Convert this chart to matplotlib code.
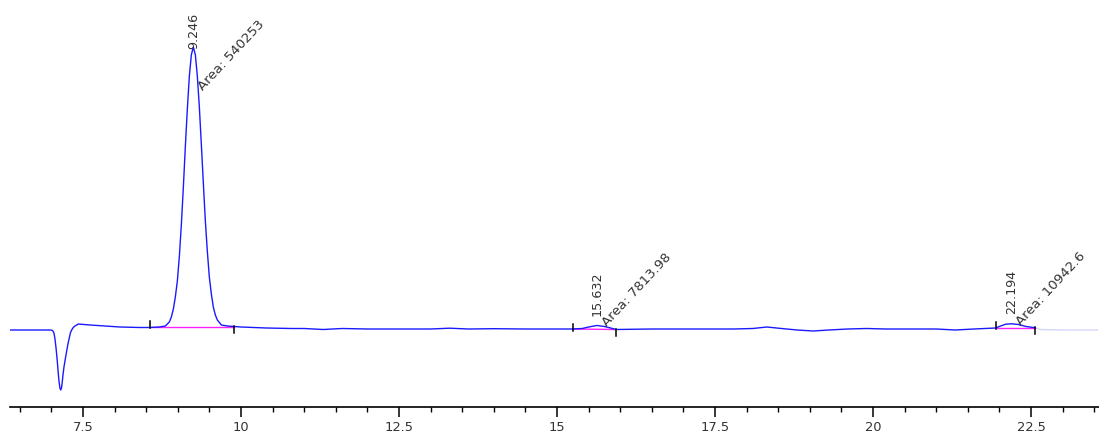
import matplotlib
matplotlib.use('Agg')
import matplotlib.pyplot as plt
from matplotlib.ticker import MultipleLocator, FormatStrFormatter

# Detector trace (min, signal)
trace_time = [6.345, 6.820, 6.978, 7.010, 7.025, 7.040, 7.057, 7.075, 7.093, 7.107,
              7.120, 7.135, 7.147, 7.160, 7.172, 7.185, 7.199, 7.220, 7.242, 7.262,
              7.283, 7.300, 7.321, 7.345, 7.373, 7.426, 7.516, 7.611, 7.848, 8.085,
              8.402, 8.560, 8.708, 8.803, 8.866, 8.898, 8.930, 8.961, 8.993, 9.025,
              9.056, 9.088, 9.119, 9.151, 9.183, 9.214, 9.246, 9.278, 9.309, 9.341,
              9.373, 9.404, 9.436, 9.467, 9.499, 9.531, 9.562, 9.594, 9.626, 9.689,
              9.784, 9.890, 10.0, 10.4, 10.8, 11.0, 11.3, 11.6, 12.0, 13.0,
              13.3, 13.6, 14.0, 14.5, 15.0, 15.25, 15.40, 15.50, 15.632, 15.75,
              15.85, 15.93, 16.5, 17.0, 17.8, 18.1, 18.32, 18.55, 18.8, 19.05,
              19.3, 19.6, 19.9, 20.2, 21.0, 21.3, 21.6, 21.94, 22.02, 22.10,
              22.194, 22.30, 22.42, 22.56]
trace_signal = [-1, -1, -1, -1.3, -2, -4, -10, -20, -32, -43,
                -52, -59, -61, -59, -53, -45, -38, -30, -22, -15,
                -9, -4, -1, 1.5, 3, 5, 4.5, 4, 3, 2,
                1.5, 1.5, 2, 3, 7, 12, 20, 32, 48, 73,
                104, 142, 182, 220, 253, 274, 282, 274, 253, 222,
                184, 146, 108, 78, 52, 35, 22, 14, 9, 4,
                3, 2.5, 2, 1, 0.5, 0.5, -0.5, 0.5, 0, 0,
                0.8, 0, 0.3, 0, 0, 0, 0.5, 2, 3.5, 2.5,
                1, -0.5, 0, 0, 0, 0.5, 2, 0.5, -1, -2,
                -1, 0, 0.5, 0, 0, -1, 0, 1, 3, 4.8,
                5.2, 4.5, 2.5, 1.3]

# Trace after the last integrated peak (drawn faint)
tail_time = [22.56, 22.65, 23.0, 23.55]
tail_signal = [1.3, -0.5, -1, -1]

# Integrated peaks
peak_rt = [9.246, 15.632, 22.194]
peak_height = [282, 3.5, 5.2]
peak_area = ['540253', '7813.98', '10942.6']
base_start = [8.560, 15.25, 21.94]
base_end = [9.890, 15.93, 22.56]
base_start_level = [2.3, 0, 1.3]
base_end_level = [2.3, -0.5, 1.3]

blue = '#1a1aff'
text_color = '#333333'

fig = plt.figure(figsize=(10.99, 4.34), dpi=100)
ax = fig.add_axes([10 / 1099, 27 / 434, 1089 / 1099, 407 / 434])

ax.plot(trace_time, trace_signal, color=blue, linewidth=1.0, zorder=3)
ax.plot(tail_time, tail_signal, color='#d6d6fa', linewidth=1.0, zorder=2)

labels = []
for i in range(len(peak_rt)):
    # baseline of the integration and its start / end marks
    ax.plot([base_start[i], base_end[i]], [base_start_level[i], base_end_level[i]],
            color='#ff22ff', linewidth=1.0, zorder=2)
    ax.plot([base_start[i], base_start[i]],
            [base_start_level[i] - 1.5, base_start_level[i] + 5.5], color='black', linewidth=1.1, zorder=4)
    ax.plot([base_end[i], base_end[i]],
            [base_end_level[i] + 0.5, base_end_level[i] - 6.5], color='black', linewidth=1.1, zorder=4)

    rt_txt = ax.text(peak_rt[i], peak_height[i] + 10, f'{peak_rt[i]:.3f}', rotation=90,
                     ha='center', va='bottom', fontsize=9.2, color=text_color)
    area_txt = ax.text(peak_rt[i] + 0.04, peak_height[i] - 4, f'Area: {peak_area[i]}', rotation=47,
                       ha='left', va='bottom', fontsize=9.6, color=text_color)
    labels.append((rt_txt, 13))
    labels.append((area_txt, 18))

ax.set_xlim(6.345, 23.576)
ax.set_ylim(-78, 329)

for side in ['top', 'left', 'right']:
    ax.spines[side].set_visible(False)
ax.spines['bottom'].set_linewidth(1.2)
ax.set_yticks([])

ax.xaxis.set_major_locator(MultipleLocator(2.5))
ax.xaxis.set_minor_locator(MultipleLocator(0.5))
ax.xaxis.set_major_formatter(FormatStrFormatter('%g'))
ax.tick_params(axis='x', which='major', length=7, width=1.1, labelsize=9.4,
               labelcolor=text_color, pad=3)
ax.tick_params(axis='x', which='minor', length=3.5, width=1.0)

# Push labels down when they would run off the top of the plot
fig.canvas.draw()
top_px = fig.bbox.height
for txt, margin in labels:
    bb = txt.get_window_extent()
    over = bb.y1 - (top_px - margin)
    if over > 0:
        x, y = txt.get_position()
        px = ax.transData.transform((x, y))
        x_new, y_new = ax.transData.inverted().transform((px[0], px[1] - over))
        txt.set_position((x, y_new))

fig.savefig('out.png', dpi=100)
